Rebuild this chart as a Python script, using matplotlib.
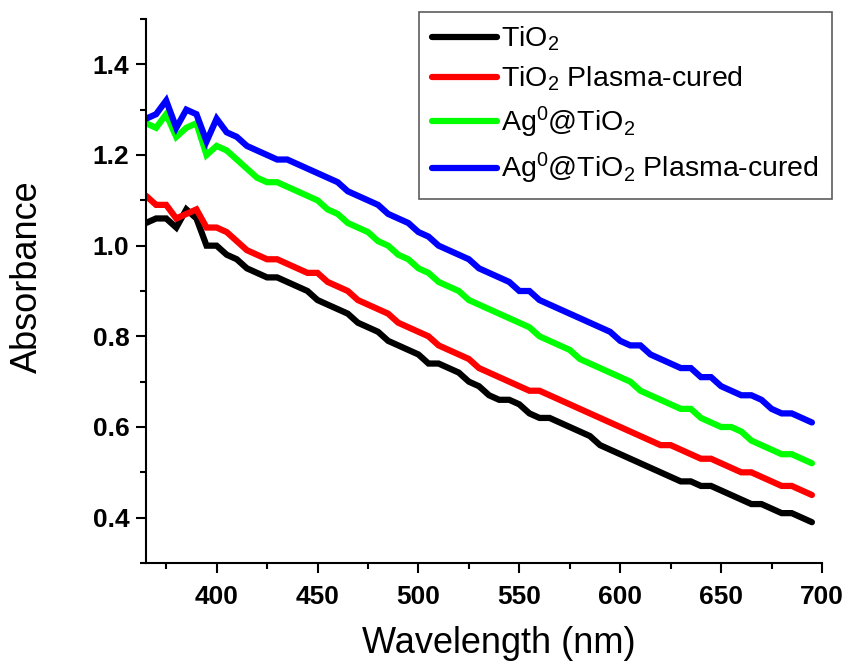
import numpy as np
import matplotlib
matplotlib.use("Agg")
import matplotlib.pyplot as plt
from matplotlib.ticker import MultipleLocator

plt.rcParams["font.family"] = ["Liberation Sans", "DejaVu Sans"]
plt.rcParams["mathtext.default"] = "regular"

# wavelength grid of the spectra (nm)
wavelength = np.arange(365, 700, 5)

tio2 = [1.05, 1.06, 1.06, 1.04, 1.08, 1.06, 1.00, 1.00, 0.98, 0.97,
        0.95, 0.94, 0.93, 0.93, 0.92, 0.91, 0.90, 0.88, 0.87, 0.86,
        0.85, 0.83, 0.82, 0.81, 0.79, 0.78, 0.77, 0.76, 0.74, 0.74,
        0.73, 0.72, 0.70, 0.69, 0.67, 0.66, 0.66, 0.65, 0.63, 0.62,
        0.62, 0.61, 0.60, 0.59, 0.58, 0.56, 0.55, 0.54, 0.53, 0.52,
        0.51, 0.50, 0.49, 0.48, 0.48, 0.47, 0.47, 0.46, 0.45, 0.44,
        0.43, 0.43, 0.42, 0.41, 0.41, 0.40, 0.39]

tio2_plasma = [1.11, 1.09, 1.09, 1.06, 1.07, 1.08, 1.04, 1.04, 1.03, 1.01,
               0.99, 0.98, 0.97, 0.97, 0.96, 0.95, 0.94, 0.94, 0.92, 0.91,
               0.90, 0.88, 0.87, 0.86, 0.85, 0.83, 0.82, 0.81, 0.80, 0.78,
               0.77, 0.76, 0.75, 0.73, 0.72, 0.71, 0.70, 0.69, 0.68, 0.68,
               0.67, 0.66, 0.65, 0.64, 0.63, 0.62, 0.61, 0.60, 0.59, 0.58,
               0.57, 0.56, 0.56, 0.55, 0.54, 0.53, 0.53, 0.52, 0.51, 0.50,
               0.50, 0.49, 0.48, 0.47, 0.47, 0.46, 0.45]

ag_tio2 = [1.27, 1.26, 1.29, 1.24, 1.26, 1.27, 1.20, 1.22, 1.21, 1.19,
           1.17, 1.15, 1.14, 1.14, 1.13, 1.12, 1.11, 1.10, 1.08, 1.07,
           1.05, 1.04, 1.03, 1.01, 1.00, 0.98, 0.97, 0.95, 0.94, 0.92,
           0.91, 0.90, 0.88, 0.87, 0.86, 0.85, 0.84, 0.83, 0.82, 0.80,
           0.79, 0.78, 0.77, 0.75, 0.74, 0.73, 0.72, 0.71, 0.70, 0.68,
           0.67, 0.66, 0.65, 0.64, 0.64, 0.62, 0.61, 0.60, 0.60, 0.59,
           0.57, 0.56, 0.55, 0.54, 0.54, 0.53, 0.52]

ag_tio2_plasma = [1.28, 1.29, 1.32, 1.26, 1.30, 1.29, 1.23, 1.28, 1.25, 1.24,
                  1.22, 1.21, 1.20, 1.19, 1.19, 1.18, 1.17, 1.16, 1.15, 1.14,
                  1.12, 1.11, 1.10, 1.09, 1.07, 1.06, 1.05, 1.03, 1.02, 1.00,
                  0.99, 0.98, 0.97, 0.95, 0.94, 0.93, 0.92, 0.90, 0.90, 0.88,
                  0.87, 0.86, 0.85, 0.84, 0.83, 0.82, 0.81, 0.79, 0.78, 0.78,
                  0.76, 0.75, 0.74, 0.73, 0.73, 0.71, 0.71, 0.69, 0.68, 0.67,
                  0.67, 0.66, 0.64, 0.63, 0.63, 0.62, 0.61]

labels = ["TiO$_2$", "TiO$_2$ Plasma-cured",
          "Ag$^0$@TiO$_2$", "Ag$^0$@TiO$_2$ Plasma-cured"]
colors = ["#000000", "#ff0000", "#00ff00", "#0000ff"]

fig = plt.figure(figsize=(8.46, 6.66), dpi=100)
ax = fig.add_axes([146 / 846, 1 - 563 / 666, (822 - 146) / 846, (563 - 19) / 666])

for series, label, color in zip([tio2, tio2_plasma, ag_tio2, ag_tio2_plasma], labels, colors):
    ax.plot(wavelength, series, color=color, lw=4.5, label=label,
            solid_capstyle="round", solid_joinstyle="miter")

ax.set_xlim(365, 700)
ax.set_ylim(0.3, 1.5)
ax.xaxis.set_major_locator(MultipleLocator(50))
ax.xaxis.set_minor_locator(MultipleLocator(25))
ax.yaxis.set_major_locator(MultipleLocator(0.2))
ax.yaxis.set_minor_locator(MultipleLocator(0.1))
ax.set_yticks(np.arange(0.4, 1.41, 0.2))
ax.set_xticks(np.arange(400, 701, 50))

for side in ["top", "right"]:
    ax.spines[side].set_visible(False)
for side in ["left", "bottom"]:
    ax.spines[side].set_linewidth(1.5)

ax.tick_params(which="major", length=7, width=1.5, direction="out", labelsize=19)
ax.tick_params(axis="y", which="major", pad=5)
ax.tick_params(axis="x", which="major", pad=9)
ax.tick_params(which="minor", length=4, width=1.5, direction="out")
for lbl in ax.get_xticklabels() + ax.get_yticklabels():
    lbl.set_fontweight("bold")

ax.set_xlabel("Wavelength (nm)", fontsize=26)
ax.set_ylabel("Absorbance", fontsize=26)
ax.xaxis.set_label_coords(0.522, -0.115)
ax.yaxis.set_label_coords(-0.15, 0.526)

leg = ax.legend(loc="upper right", bbox_to_anchor=(832 / 846, 1 - 12 / 666),
                bbox_transform=fig.transFigure, borderaxespad=0,
                fontsize=20.5, handlelength=2.3, handletextpad=0.15,
                labelspacing=0.4, frameon=True, fancybox=False,
                borderpad=0.45)
leg.get_frame().set_edgecolor("#333333")
leg.get_frame().set_linewidth(1.2)

fig.savefig("out.png", dpi=100)
